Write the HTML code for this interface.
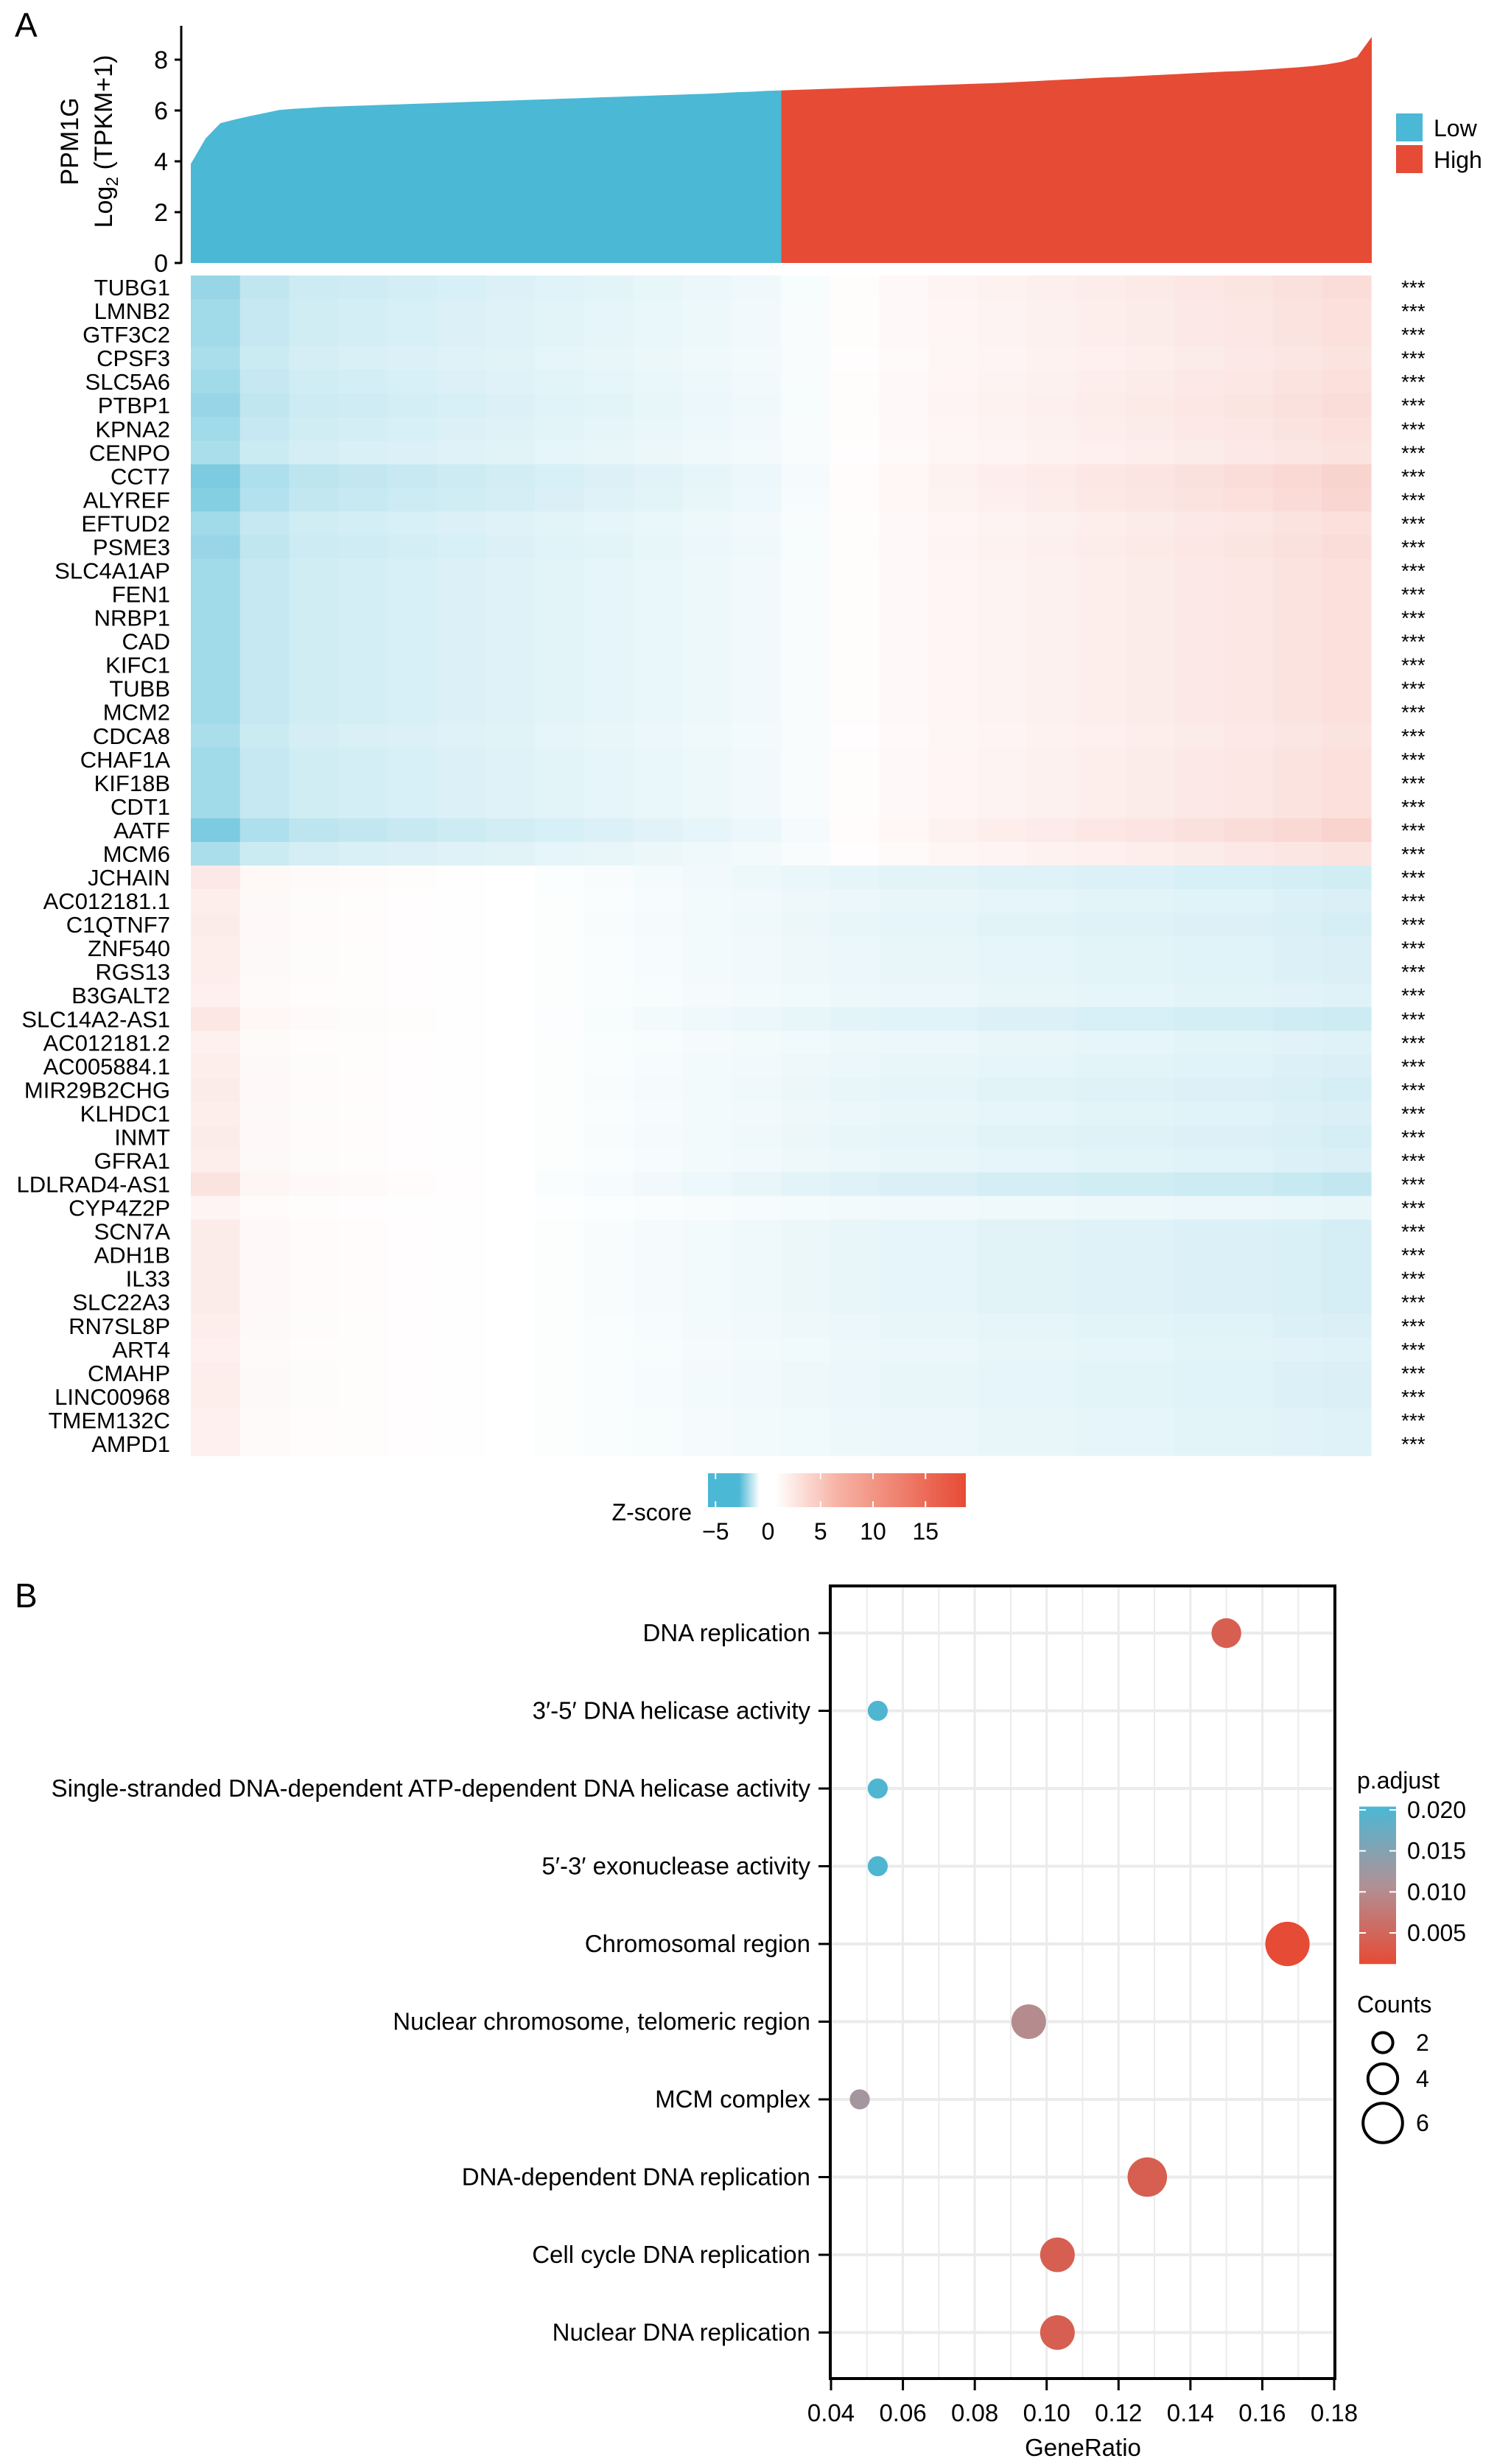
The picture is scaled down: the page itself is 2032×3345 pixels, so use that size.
<!DOCTYPE html>
<html><head><meta charset="utf-8"><style>
html,body{margin:0;padding:0;background:#fff;}
svg{display:block;font-family:"Liberation Sans",Arial,sans-serif;}
</style></head><body>
<svg id="fig" width="2032" height="3345" viewBox="0 0 2032 3345" xmlns="http://www.w3.org/2000/svg">
<defs>
<linearGradient id="zgrad" x1="0" x2="1" y1="0" y2="0">
<stop offset="0" stop-color="#4bb8d5"/><stop offset="0.12" stop-color="#4bb8d5"/><stop offset="0.2" stop-color="#ffffff"/><stop offset="0.26" stop-color="#ffffff"/><stop offset="0.5" stop-color="#f7b3a5"/><stop offset="1" stop-color="#e64b35"/>
</linearGradient>
<linearGradient id="pgrad" x1="0" x2="0" y1="0" y2="1">
<stop offset="0" stop-color="#4bb8d5"/><stop offset="0.5" stop-color="#b09196"/><stop offset="1" stop-color="#e64b35"/>
</linearGradient>
<clipPath id="clipLow"><rect x="0" y="0" width="1060" height="400"/></clipPath>
<clipPath id="clipHigh"><rect x="1060" y="0" width="900" height="400"/></clipPath>
</defs>
<text x="20" y="50" font-size="46">A</text>
<text x="20" y="2182" font-size="46">B</text>
<g id="barchart"></g>
<g id="heatmap"></g>
<g id="zlegend"></g>
<g id="dotplot"></g>
</svg>
<script>
const NS="http://www.w3.org/2000/svg";
// ---------- data: PPM1G expression (sorted samples, quantiles)
const exprValues=[3.9,4.9,5.5,5.65,5.78,5.9,6.02,6.07,6.1,6.14,6.16,
6.18,6.2,6.22,6.24,6.26,6.28,6.3,6.32,6.34,6.36,6.38,6.4,6.42,6.44,6.46,6.48,6.5,6.52,6.54,6.56,6.58,6.6,6.62,6.64,6.66,6.69,6.72,6.74,6.77,6.79,
6.81,6.83,6.85,6.87,6.89,6.91,6.93,6.95,
6.97,6.99,7.01,7.03,7.05,7.07,7.09,7.12,
7.15,7.18,7.21,7.24,7.27,7.3,7.32,7.35,
7.38,7.41,7.44,7.47,7.5,7.53,7.55,7.58,
7.62,7.66,7.7,7.75,7.82,7.92,8.1,8.9];
const exprTicks=[0,2,4,6,8];
const groupLabels=["Low","High"];
// ---------- data: heatmap
const genes=["TUBG1","LMNB2","GTF3C2","CPSF3","SLC5A6","PTBP1","KPNA2","CENPO","CCT7","ALYREF","EFTUD2","PSME3","SLC4A1AP","FEN1","NRBP1","CAD","KIFC1","TUBB","MCM2","CDCA8","CHAF1A","KIF18B","CDT1","AATF","MCM6",
"JCHAIN","AC012181.1","C1QTNF7","ZNF540","RGS13","B3GALT2","SLC14A2-AS1","AC012181.2","AC005884.1","MIR29B2CHG","KLHDC1","INMT","GFRA1","LDLRAD4-AS1","CYP4Z2P","SCN7A","ADH1B","IL33","SLC22A3","RN7SL8P","ART4","CMAHP","LINC00968","TMEM132C","AMPD1"];
const geneDirection=[1,1,1,1,1,1,1,1,1,1,1,1,1,1,1,1,1,1,1,1,1,1,1,1,1,-1,-1,-1,-1,-1,-1,-1,-1,-1,-1,-1,-1,-1,-1,-1,-1,-1,-1,-1,-1,-1,-1,-1,-1,-1];
const geneAmp=[1.1,1,1,0.9,1,1.1,1,0.9,1.4,1.3,1,1.1,1,1,1,1,1,1,1,0.9,1,1,1,1.4,0.9,
1,0.8,0.9,0.8,0.8,0.7,1.1,0.7,0.8,0.9,0.8,0.9,0.8,1.3,0.5,0.9,0.9,0.9,0.9,0.8,0.7,0.8,0.8,0.7,0.7];
const upProfile=[-2.6,-1.6,-1.3,-1.2,-1.1,-1.0,-0.9,-0.8,-0.7,-0.6,-0.5,-0.4,-0.2,0.2,0.5,0.8,1.0,1.2,1.4,1.6,1.8,2.0,2.3,2.6];
const downProfile=[1.8,0.6,0.4,0.3,0.2,0.1,0,-0.1,-0.2,-0.3,-0.4,-0.5,-0.6,-0.7,-0.8,-0.8,-0.9,-0.9,-1.0,-1.0,-1.1,-1.1,-1.2,-1.3];
const zTicks=[-5,0,5,10,15];
// ---------- data: enrichment
const terms=["DNA replication","3\u2032-5\u2032 DNA helicase activity","Single-stranded DNA-dependent ATP-dependent DNA helicase activity","5\u2032-3\u2032 exonuclease activity","Chromosomal region","Nuclear chromosome, telomeric region","MCM complex","DNA-dependent DNA replication","Cell cycle DNA replication","Nuclear DNA replication"];
const geneRatio=[0.150,0.053,0.053,0.053,0.167,0.095,0.048,0.128,0.103,0.103];
const counts=[4,2,2,2,7,5,2,6,5,5];
const padj=[0.004,0.020,0.020,0.020,0.0012,0.010,0.012,0.004,0.004,0.004];
const ratioTicks=[0.04,0.06,0.08,0.10,0.12,0.14,0.16,0.18];
const padjTicks=[0.020,0.015,0.010,0.005];
const countTicks=[2,4,6];

function el(tag,attrs,parent,txt){const e=document.createElementNS(NS,tag);for(const k in attrs)e.setAttribute(k,attrs[k]);if(txt!==undefined)e.textContent=txt;parent.appendChild(e);return e;}
function hex(c){return [parseInt(c.slice(1,3),16),parseInt(c.slice(3,5),16),parseInt(c.slice(5,7),16)];}
function mix(a,b,t){const A=hex(a),B=hex(b);return "rgb("+A.map((v,i)=>Math.round(v+(B[i]-v)*t)).join(",")+")";}
const BLUE="#4bb8d5",RED="#e64b35";

// ---------- bar chart
(function(){
const g=document.getElementById("barchart");
const x0=259,x1=1862,yBase=357,pxPer=34.5;
const y=v=>yBase-v*pxPer;
const n=exprValues.length,step=(x1-x0)/(n-1);
const xi=i=>x0+i*step;
let d="M"+x0+","+yBase;
exprValues.forEach((v,i)=>{d+=" L"+xi(i)+","+y(v);});
d+=" L"+x1+","+yBase+" Z";
const splitX=xi((n-1)/2);
document.querySelector("#clipLow rect").setAttribute("width",splitX);
document.querySelector("#clipHigh rect").setAttribute("x",splitX);
const p1=el("path",{d:d,fill:BLUE,"clip-path":"url(#clipLow)"},g);


const p2=el("path",{d:d,fill:RED,"clip-path":"url(#clipHigh)"},g);


const ax=el("line",{x1:246,y1:35,x2:246,y2:358,stroke:"#000","stroke-width":3},g);


exprTicks.forEach(t=>{
 el("line",{x1:237,x2:246,y1:y(t),y2:y(t),stroke:"#000","stroke-width":3},g);
 const tx=el("text",{x:228,y:y(t)+12,"font-size":34,"text-anchor":"end"},g,String(t));
 
 
});
const t1=el("text",{transform:"translate(106,192) rotate(-90)","font-size":34,"text-anchor":"middle"},g,"PPM1G");


const t2=el("text",{transform:"translate(152,192) rotate(-90)","font-size":34,"text-anchor":"middle"},g);


el("tspan",{},t2,"Log");el("tspan",{"font-size":23,dy:8},t2,"2");el("tspan",{dy:-8},t2," (TPKM+1)");
groupLabels.forEach((lab,i)=>{
 const r=el("rect",{x:1895,y:154+i*43,width:36,height:38,fill:i==0?BLUE:RED},g);
 
 
 const tx=el("text",{x:1946,y:185+i*43,"font-size":32},g,lab);
 
 
});
})();

// ---------- heatmap
function zColor(z){
 if(z<0){return mix("#ffffff",BLUE,Math.min(1,-z/5));}
 return mix("#ffffff",RED,Math.min(1,z/15));
}
(function(){
const g=document.getElementById("heatmap");
const x0=259,x1=1861,top=374,rh=32.04;
const nb=upProfile.length,bw=(x1-x0)/nb;
genes.forEach((gname,i)=>{
 const prof=geneDirection[i]>0?upProfile:downProfile;
 for(let j=0;j<nb;j++){
  const r=el("rect",{x:x0+j*bw,y:top+i*rh,width:bw+0.6,height:rh+0.6,fill:zColor(prof[j]*geneAmp[i])},g);
  
  
 }
 const cy=top+(i+0.5)*rh;
 const lab=el("text",{x:231,y:cy+11,"font-size":31,"text-anchor":"end"},g,gname);
 
 
 const st=el("text",{x:1902,y:cy+10,"font-size":28},g,"***");
 
 
});
})();

// ---------- z legend
(function(){
const g=document.getElementById("zlegend");
const bar=el("rect",{x:961,y:2000,width:350,height:46,fill:"url(#zgrad)"},g);


const zx=z=>1042.5+z*14.25;
zTicks.forEach(t=>{
 el("line",{x1:zx(t),x2:zx(t),y1:2000,y2:2008,stroke:"#fff","stroke-width":2},g);
 el("line",{x1:zx(t),x2:zx(t),y1:2038,y2:2046,stroke:"#fff","stroke-width":2},g);
 const tx=el("text",{x:zx(t),y:2090,"font-size":32,"text-anchor":"middle"},g,t<0?"\u2212"+(-t):String(t));
 
 
});
const tt=el("text",{x:939,y:2064,"font-size":32,"text-anchor":"end"},g,"Z-score");


})();

// ---------- dot plot
(function(){
const g=document.getElementById("dotplot");
const L=1127,R=1812,T=2153,B=3229;
const xs=v=>1128+(v-0.04)/0.14*683;
const ys=i=>2217+i*105.5;
const rad=n=>7+3.3*n;
const pmin=0.0012,pmax=0.0204;
function pColor(p){const t=(p-pmin)/(pmax-pmin);return t<0.5?mix(RED,"#b09196",t*2):mix("#b09196",BLUE,(t-0.5)*2);}
for(let v=0.04;v<=0.1801;v+=0.01){
 const gl=el("line",{x1:xs(v),x2:xs(v),y1:T,y2:B,stroke:"#ebebeb","stroke-width":Math.abs(Math.round(v*100)%2)==0?3:2},g);
 
 
}
terms.forEach((t,i)=>{
 el("line",{x1:L,x2:R,y1:ys(i),y2:ys(i),stroke:"#ebebeb","stroke-width":4},g);
 el("line",{x1:1111,x2:L,y1:ys(i),y2:ys(i),stroke:"#000","stroke-width":3},g);
 const lab=el("text",{x:1100,y:ys(i)+11,"font-size":33,"text-anchor":"end"},g,t);
 
 
});
const box=el("rect",{x:L,y:T,width:R-L,height:B-T,fill:"none",stroke:"#000","stroke-width":4},g);


ratioTicks.forEach(v=>{
 el("line",{x1:xs(v),x2:xs(v),y1:B,y2:B+16,stroke:"#000","stroke-width":3},g);
 const tx=el("text",{x:xs(v),y:3287,"font-size":33,"text-anchor":"middle"},g,v.toFixed(2));
 
 
});
const xt=el("text",{x:1470,y:3334,"font-size":33,"text-anchor":"middle"},g,"GeneRatio");


geneRatio.forEach((v,i)=>{
 const c=el("circle",{cx:xs(v),cy:ys(i),r:rad(counts[i]),fill:pColor(padj[i])},g);
 
 
});
// p.adjust legend
const pt=el("text",{x:1842,y:2428,"font-size":32},g,"p.adjust");


const py=p=>2457+(0.020-p)*11133;
const pb=el("rect",{x:1845,y:py(pmax),width:50,height:py(pmin)-py(pmax),fill:"url(#pgrad)"},g);


padjTicks.forEach(p=>{
 el("line",{x1:1845,x2:1854,y1:py(p),y2:py(p),stroke:"#fff","stroke-width":2},g);
 el("line",{x1:1886,x2:1895,y1:py(p),y2:py(p),stroke:"#fff","stroke-width":2},g);
 const tx=el("text",{x:1910,y:py(p)+11,"font-size":32},g,p.toFixed(3));
 
 
});
const ct=el("text",{x:1842,y:2732,"font-size":32},g,"Counts");


const cy=[2773,2822,2882];
countTicks.forEach((n,i)=>{
 const c=el("circle",{cx:1877,cy:cy[i],r:rad(n),fill:"none",stroke:"#000","stroke-width":4},g);
 
 
 const tx=el("text",{x:1922,y:cy[i]+11,"font-size":32},g,String(n));
 
 
});
})();
</script>
</body></html>
